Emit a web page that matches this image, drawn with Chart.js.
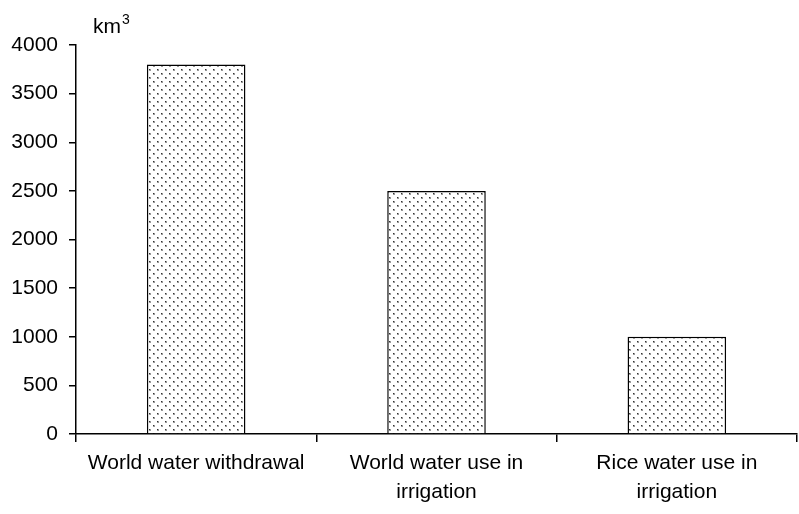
<!DOCTYPE html>
<html>
<head>
<meta charset="utf-8">
<script src="https://cdn.jsdelivr.net/npm/chart.js@4"></script>
<style>
  html, body { margin: 0; padding: 0; background: #fff; }
  #wrap { width: 799px; height: 514px; }
</style>
</head>
<body>
<div id="wrap"><canvas id="barChart" width="799" height="514"></canvas></div>
<script>
// datos del gráfico
var categorias = [
  ["World water withdrawal"],
  ["World water use in", "irrigation"],
  ["Rice water use in", "irrigation"]
];
var valores = [3800, 2500, 1000];
var unidad = "km\u00b3";

// patrón de puntos para las barras
function crearPatron() {
  var c = document.createElement("canvas");
  c.width = 8;
  c.height = 8;
  var ctx = c.getContext("2d");
  ctx.fillStyle = "#fff";
  ctx.fillRect(0, 0, 8, 8);
  ctx.fillStyle = "#999";
  ctx.fillRect(1, 1, 2, 2);
  ctx.fillRect(5, 5, 2, 2);
  ctx.fillStyle = "#333";
  ctx.fillRect(1, 1, 1, 1);
  ctx.fillRect(5, 5, 1, 1);
  return ctx.createPattern(c, "repeat");
}

var tituloUnidad = {
  id: "tituloUnidad",
  afterDraw: function (chart) {
    var ctx = chart.ctx;
    var x = chart.chartArea.left + 17;
    var y = 33;
    ctx.save();
    ctx.fillStyle = "#000";
    ctx.textBaseline = "alphabetic";
    ctx.font = "21px 'Liberation Sans', Arial, sans-serif";
    ctx.fillText("km", x, y);
    var w = ctx.measureText("km").width;
    ctx.font = "14px 'Liberation Sans', Arial, sans-serif";
    ctx.fillText("3", x + w + 1, y - 9);
    ctx.restore();
  }
};

Chart.defaults.font.family = "'Liberation Sans', Arial, sans-serif";
Chart.defaults.font.size = 21;
Chart.defaults.color = "#000";

new Chart(document.getElementById("barChart"), {
  type: "bar",
  data: {
    labels: categorias,
    datasets: [
      {
        label: unidad,
        data: valores,
        backgroundColor: crearPatron(),
        borderColor: "#000",
        borderWidth: 1.5,
        borderSkipped: "bottom",
        barPercentage: 0.41,
        categoryPercentage: 1.0
      }
    ]
  },
  options: {
    responsive: false,
    animation: false,
    layout: { padding: { top: 45, right: 2, left: 0, bottom: 0 } },
    plugins: {
      legend: { display: false },
      tooltip: { enabled: false }
    },
    scales: {
      x: {
        offset: true,
        grid: {
          offset: true,
          drawOnChartArea: false,
          color: "#000",
          lineWidth: 1.5,
          tickLength: 8
        },
        border: { color: "#000", width: 1.5 },
        ticks: { color: "#000", padding: 7, maxRotation: 0, autoSkip: false, font: { size: 21, lineHeight: 1.38 } }
      },
      y: {
        min: 0,
        max: 4000,
        afterFit: function (axis) { axis.width = 76; },
        grid: {
          drawOnChartArea: false,
          color: "#000",
          lineWidth: 1.5,
          tickLength: 7
        },
        border: { color: "#000", width: 1.5 },
        ticks: {
          stepSize: 500,
          color: "#000",
          padding: 11,
          font: { size: 21 },
          callback: function (v) { return String(v); }
        }
      }
    }
  },
  plugins: [tituloUnidad]
});
</script>
</body>
</html>
